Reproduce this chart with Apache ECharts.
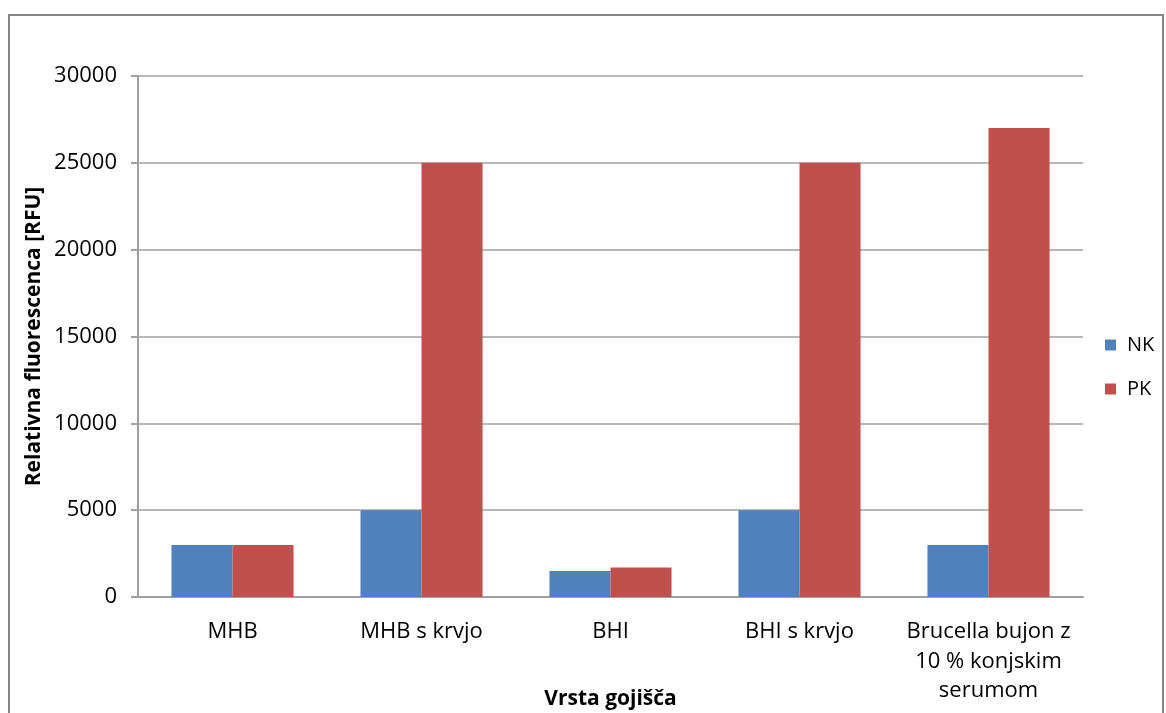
<!DOCTYPE html>
<html>
<head>
<meta charset="utf-8">
<script src="https://cdn.jsdelivr.net/npm/echarts@6/dist/echarts.min.js"></script>
<style>
html,body{margin:0;padding:0;background:#fff;}
#chart{width:1166px;height:713px;}
</style>
</head>
<body>
<div id="chart"></div>
<script>
const categories = ['MHB', 'MHB s krvjo', 'BHI', 'BHI s krvjo', 'Brucella bujon z\n10 % konjskim\nserumom'];
const nkValues = [3000, 5000, 1500, 5000, 3000];
const pkValues = [3000, 25000, 1700, 25000, 27000];
const seriesNames = ['NK', 'PK'];
const yTicks = [0, 5000, 10000, 15000, 20000, 25000, 30000];

const FONT = 'Open Sans';
const chart = echarts.init(document.getElementById('chart'));
chart.setOption({
  backgroundColor: '#fff',
  animation: false,
  textStyle: { fontFamily: FONT },
  graphic: [{
    type: 'rect',
    shape: { x: 9, y: 15, width: 1154, height: 720 },
    style: { fill: 'none', stroke: '#868686', lineWidth: 2 },
    silent: true
  }],
  grid: { left: 138, right: 83, top: 76, bottom: 116, containLabel: false, outerBoundsMode: 'none' },
  legend: {
    orient: 'vertical',
    left: 1105,
    top: 334,
    padding: 0,
    itemWidth: 11,
    itemHeight: 11,
    itemGap: 22,
    icon: 'rect',
    textStyle: { fontFamily: FONT, fontSize: 20, lineHeight: 22, color: '#000', padding: [0, 0, 0, 6] },
    data: seriesNames
  },
  xAxis: {
    type: 'category',
    data: categories,
    name: 'Vrsta gojišča',
    nameLocation: 'middle',
    nameGap: 92,
    nameMoveOverlap: false,
    nameTextStyle: { fontFamily: FONT, fontSize: 21, fontWeight: 'bold', color: '#000' },
    axisLine: { lineStyle: { color: '#a0a0a0', width: 2 } },
    axisTick: { show: false },
    axisLabel: { fontFamily: FONT, fontSize: 22, color: '#000', margin: 20, lineHeight: 29.5, interval: 0 }
  },
  yAxis: {
    type: 'value',
    min: 0,
    max: 30000,
    interval: 5000,
    name: 'Relativna fluorescenca [RFU]',
    nameLocation: 'middle',
    nameGap: 93,
    nameMoveOverlap: false,
    nameTextStyle: { fontFamily: FONT, fontSize: 21, fontWeight: 'bold', color: '#000' },
    axisLine: { show: true, lineStyle: { color: '#a0a0a0', width: 2 } },
    axisTick: { show: true, length: 7, lineStyle: { color: '#a0a0a0', width: 2 } },
    axisLabel: { fontFamily: FONT, fontSize: 22, color: '#000', margin: 21,
      formatter: v => yTicks.includes(v) ? String(v) : '' },
    splitLine: { lineStyle: { color: '#a0a0a0', width: 1.5 } }
  },
  series: [
    { name: seriesNames[0], type: 'bar', data: nkValues, barGap: '0%', barCategoryGap: '35.4%',
      itemStyle: { color: '#4F81BD' } },
    { name: seriesNames[1], type: 'bar', data: pkValues, barGap: '0%', barCategoryGap: '35.4%',
      itemStyle: { color: '#C0504D' } }
  ]
});
</script>
</body>
</html>
